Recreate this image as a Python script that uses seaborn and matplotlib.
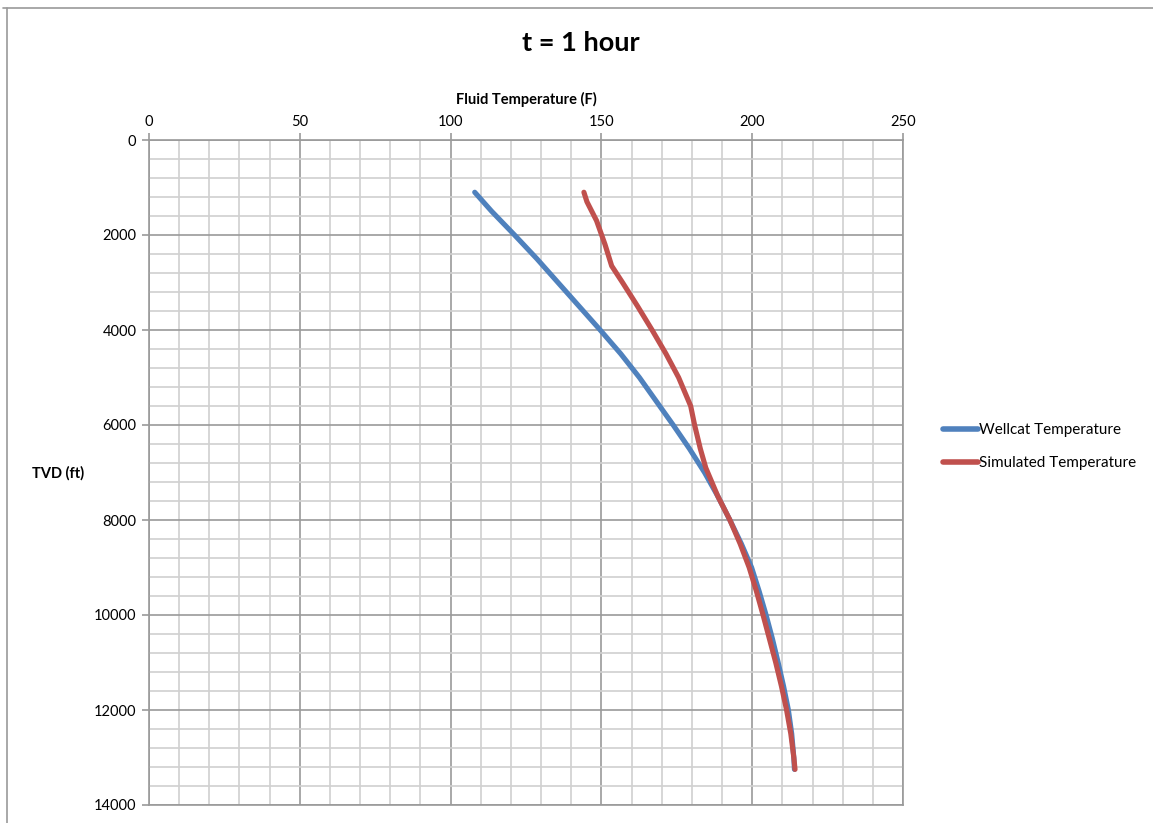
import matplotlib
matplotlib.use("Agg")
import matplotlib.pyplot as plt
from matplotlib.lines import Line2D
from matplotlib.ticker import MultipleLocator
import pandas as pd
import seaborn as sns

# Wellcat temperature profile (fluid temperature in F vs true vertical depth in ft)
wellcat_tvd = [1100, 1500, 2000, 2500, 3000, 3500, 4000, 4500, 5000, 5500, 6000,
               6500, 7000, 7500, 8000, 8500, 9000, 9500, 10000, 10500, 11000,
               11500, 12000, 12500, 13000, 13250]
wellcat_temp = [108.0, 113.6, 121.2, 128.6, 135.6, 142.6, 149.6, 156.4, 162.6,
                168.2, 173.8, 179.2, 184.2, 188.6, 192.6, 196.4, 199.8, 202.3,
                204.6, 206.7, 208.6, 210.4, 212.0, 213.1, 213.8, 214.0]

# Simulated temperature profile
sim_tvd = [1100, 1300, 1700, 2200, 2650, 3000, 3500, 4000, 4500, 5000, 5600,
           6000, 6500, 6900, 7500, 8000, 8500, 9000, 9500, 10000, 10500, 11000,
           11500, 12000, 12500, 13000, 13250]
sim_temp = [144.2, 145.2, 148.4, 151.2, 153.4, 157.0, 162.0, 166.8, 171.4,
            175.6, 179.6, 180.9, 182.8, 184.6, 188.6, 192.6, 196.0, 199.0,
            201.4, 203.6, 205.7, 207.8, 209.7, 211.4, 212.8, 213.8, 214.2]

series_names = ["Wellcat Temperature", "Simulated Temperature"]
series_colors = ["#4F81BD", "#C0504D"]

sns.set_theme(style="white")
plt.rcParams["font.family"] = ["Lato", "DejaVu Sans"]
plt.rcParams["text.color"] = "black"
plt.rcParams["axes.labelcolor"] = "black"

W, H = 1153, 823
fig = plt.figure(figsize=(W / 100, H / 100), dpi=100)
ax = fig.add_axes([149 / W, 1 - 805 / H, (903 - 149) / W, (805 - 140) / H])

wellcat = pd.DataFrame({"temp": wellcat_temp, "tvd": wellcat_tvd})
sim = pd.DataFrame({"temp": sim_temp, "tvd": sim_tvd})

sns.lineplot(data=wellcat, x="temp", y="tvd", sort=False, estimator=None,
             color=series_colors[0], lw=3.7, label=series_names[0], ax=ax,
             solid_capstyle="round", solid_joinstyle="round", zorder=3)
sns.lineplot(data=sim, x="temp", y="tvd", sort=False, estimator=None,
             color=series_colors[1], lw=3.7, label=series_names[1], ax=ax,
             solid_capstyle="round", solid_joinstyle="round", zorder=4)

ax.set_xlim(0, 250)
ax.set_ylim(14000, 0)

ax.xaxis.set_major_locator(MultipleLocator(50))
ax.xaxis.set_minor_locator(MultipleLocator(10))
ax.yaxis.set_major_locator(MultipleLocator(2000))
ax.yaxis.set_minor_locator(MultipleLocator(400))

ax.grid(which="minor", color="#d0d0d0", lw=1.2, zorder=0)
ax.grid(which="major", color="#9a9a9a", lw=1.2, zorder=1)
ax.set_axisbelow(True)

for side in ax.spines.values():
    side.set_color("#9a9a9a")
    side.set_linewidth(1.2)

ax.xaxis.tick_top()
ax.xaxis.set_label_position("top")
ax.tick_params(axis="x", which="major", top=True, bottom=False, length=5,
               width=1.2, color="#9a9a9a", labelcolor="black", labelsize=10.5,
               pad=3)
ax.tick_params(axis="y", which="major", left=True, length=5, width=1.2,
               color="#9a9a9a", labelcolor="black", labelsize=10.5, pad=4)
ax.tick_params(which="minor", length=0)

ax.set_xlabel("Fluid Temperature (F)", fontsize=10.5, fontweight="bold",
              labelpad=8)
ax.set_ylabel("TVD (ft)", fontsize=10.5, fontweight="bold", rotation=0,
              ha="center", va="center")
ax.yaxis.set_label_coords((58 - 149) / 754, 1 - (473 - 140) / 665)

fig.text(581 / W, 1 - 43 / H, "t = 1 hour", ha="center", va="center",
         fontsize=19.5, fontweight="bold")

leg = ax.legend(loc="center left", bbox_to_anchor=(1.045, 0.539), frameon=False,
                fontsize=11, handlelength=2.3, handletextpad=0.05,
                labelspacing=1.25, borderaxespad=0)
for h in leg.get_lines():
    h.set_linewidth(4)

# outer chart frame (top and left edges)
fig.add_artist(Line2D([3 / W, 1], [1 - 8 / H, 1 - 8 / H], color="#9a9a9a", lw=1.2))
fig.add_artist(Line2D([7 / W, 7 / W], [0, 1 - 8 / H], color="#9a9a9a", lw=1.2))

fig.savefig("out.png", dpi=100)
